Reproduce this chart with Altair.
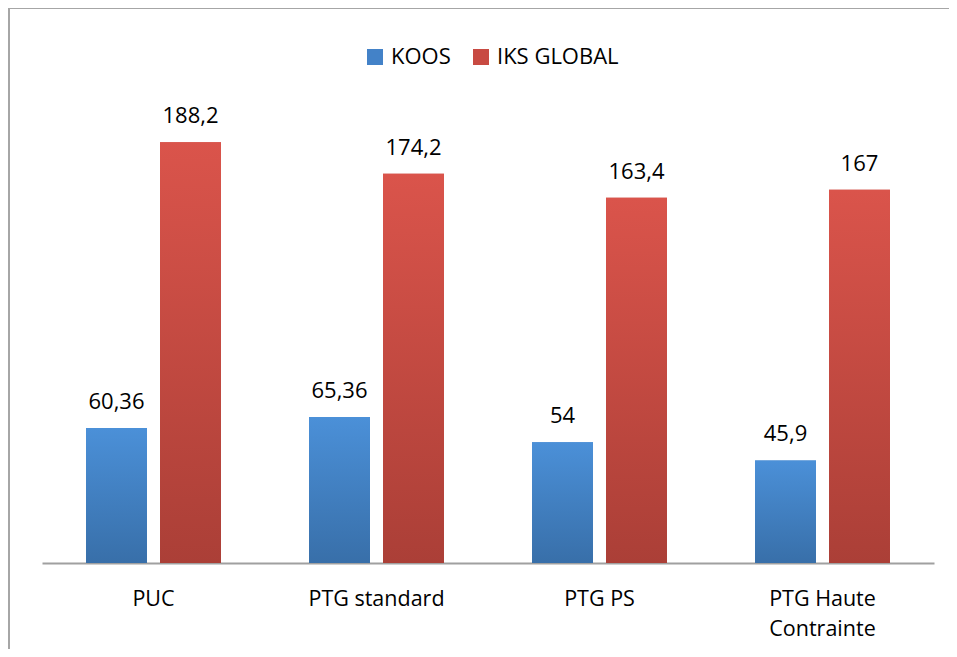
import altair as alt
import pandas as pd

categories = ["PUC", "PTG standard", "PTG PS", "PTG Haute Contrainte"]
koos = [60.36, 65.36, 54, 45.9]
iks = [188.2, 174.2, 163.4, 167]
series = ["KOOS", "IKS GLOBAL"]

rows = []
for c, k, i in zip(categories, koos, iks):
    for s, v in ((series[0], k), (series[1], i)):
        rows.append({"cat": c, "series": s, "value": v,
                     "label": (("%g" % v).replace(".", ","))})
df = pd.DataFrame(rows)

FONT = "Open Sans"
blue_grad = alt.LinearGradient(gradient="linear", x1=0, y1=0, x2=0, y2=1,
                               stops=[alt.GradientStop(offset=0, color="#4b90d8"),
                                      alt.GradientStop(offset=1, color="#386fa9")])
red_grad = alt.LinearGradient(gradient="linear", x1=0, y1=0, x2=0, y2=1,
                              stops=[alt.GradientStop(offset=0, color="#da544b"),
                                     alt.GradientStop(offset=1, color="#ab3f37")])

x = alt.X("cat:N", sort=categories, title=None,
          scale=alt.Scale(paddingInner=0, paddingOuter=0),
          axis=alt.Axis(labelAngle=0, ticks=False, domainColor="#a0a0a0", domainWidth=2,
                        labelFont=FONT, labelFontSize=21.5, labelColor="#000000",
                        labelPadding=25, labelLimit=300, labelLineHeight=30,
                        labelExpr="datum.label == 'PTG Haute Contrainte' ? ['PTG Haute', 'Contrainte'] : datum.label"))
xoff = alt.XOffset("series:N", sort=series,
                   scale=alt.Scale(paddingInner=0.176, paddingOuter=0.595))
y = alt.Y("value:Q", scale=alt.Scale(domain=[0, 200]), axis=None)

base = alt.Chart(df)

bars = base.mark_bar().encode(
    x=x, xOffset=xoff, y=y,
    color=alt.Color("series:N", sort=series,
                    scale=alt.Scale(domain=series, range=["#4382c8", "#c84a42"]),
                    legend=alt.Legend(title=None, orient="none", direction="horizontal",
                                      legendX=322, legendY=-70, symbolType="square",
                                      symbolSize=256, labelFont=FONT, labelFontSize=22,
                                      labelColor="#000000", labelOffset=5, columnPadding=19,
                                      symbolStrokeWidth=0)))

blue = base.mark_bar(fill=blue_grad).encode(x=x, xOffset=xoff, y=y).transform_filter(
    alt.datum.series == "KOOS")
red = base.mark_bar(fill=red_grad).encode(x=x, xOffset=xoff, y=y).transform_filter(
    alt.datum.series == "IKS GLOBAL")

labels = base.mark_text(baseline="alphabetic", dy=-19, font=FONT, fontSize=22,
                        color="#000000").encode(x=x, xOffset=xoff, y=y, text="label:N")

border = alt.Chart(pd.DataFrame({"a": [0]})).mark_rect(
    fill=None, stroke="#a6a6a6", strokeWidth=2).encode(
    x=alt.value(-33), x2=alt.value(1000), y=alt.value(-108), y2=alt.value(800))

chart = alt.layer(border, bars, blue, red, labels).properties(
    width=892, height=447,
    padding={"left": 34, "top": 108, "right": 15, "bottom": 86},
    autosize=alt.AutoSizeParams(type="none"),
).configure_view(stroke=None)

chart.save("out.html", embed_options={"renderer": "svg", "actions": False})
